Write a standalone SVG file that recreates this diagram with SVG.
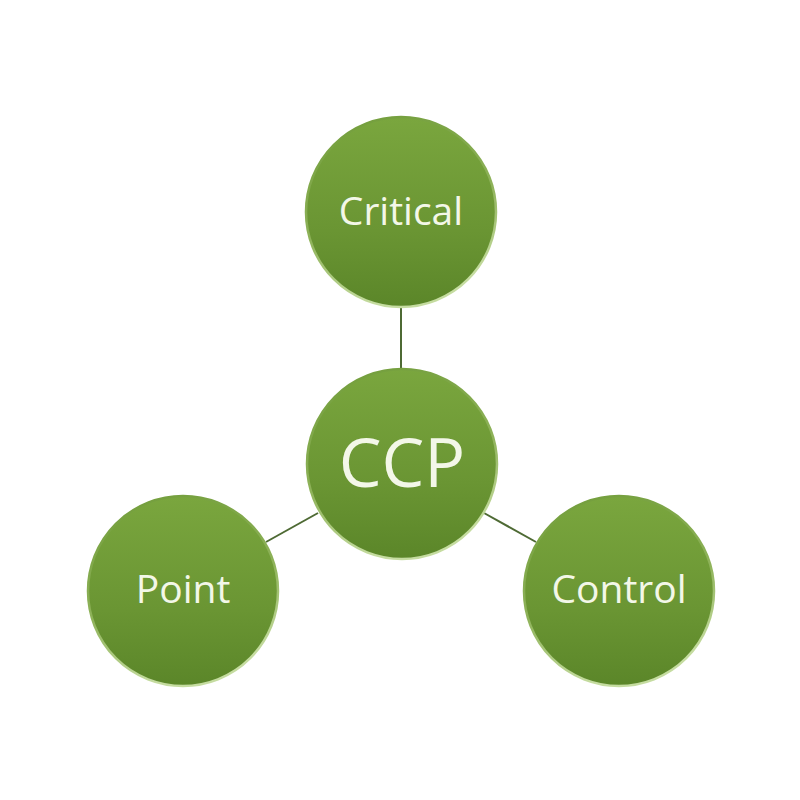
<svg xmlns="http://www.w3.org/2000/svg" width="800" height="800" viewBox="0 0 800 800">
<defs>
<linearGradient id="g" x1="0" y1="0" x2="0" y2="1">
<stop offset="0" stop-color="#7aa63e"/>
<stop offset="0.6" stop-color="#6a9533"/>
<stop offset="1" stop-color="#5b8629"/>
</linearGradient>
<linearGradient id="rim" x1="0" y1="0" x2="0.3" y2="1">
<stop offset="0" stop-color="#6f9b38"/>
<stop offset="0.6" stop-color="#8fb35a"/>
<stop offset="1" stop-color="#c5dca0"/>
</linearGradient>
</defs>
<style>
.n{fill:url(#g);stroke:url(#rim);stroke-width:2.5}
.t{font-family:"Open Sans","Noto Sans",sans-serif;fill:#f3f7e8;text-anchor:middle}
.s{font-size:39px}
.c{stroke:#4e6a34;stroke-width:2;fill:none}
</style>
<rect width="800" height="800" fill="#ffffff"/>
<g id="connectors">
<line class="c" x1="401" y1="307" x2="401" y2="368"/>
<line class="c" x1="318" y1="513" x2="266" y2="542"/>
<line class="c" x1="484" y1="513" x2="536" y2="542"/>
</g>
<g id="critical">
<circle class="n" cx="401" cy="212" r="95"/>
<text class="t s" x="401" y="225">Critical</text>
</g>
<g id="ccp">
<circle class="n" cx="402" cy="464" r="95"/>
<text class="t" x="402" y="487" font-size="68">CCP</text>
</g>
<g id="point">
<circle class="n" cx="183" cy="591" r="95"/>
<text class="t s" x="183" y="603">Point</text>
</g>
<g id="control">
<circle class="n" cx="619" cy="591" r="95"/>
<text class="t s" x="619" y="603">Control</text>
</g>
</svg>
